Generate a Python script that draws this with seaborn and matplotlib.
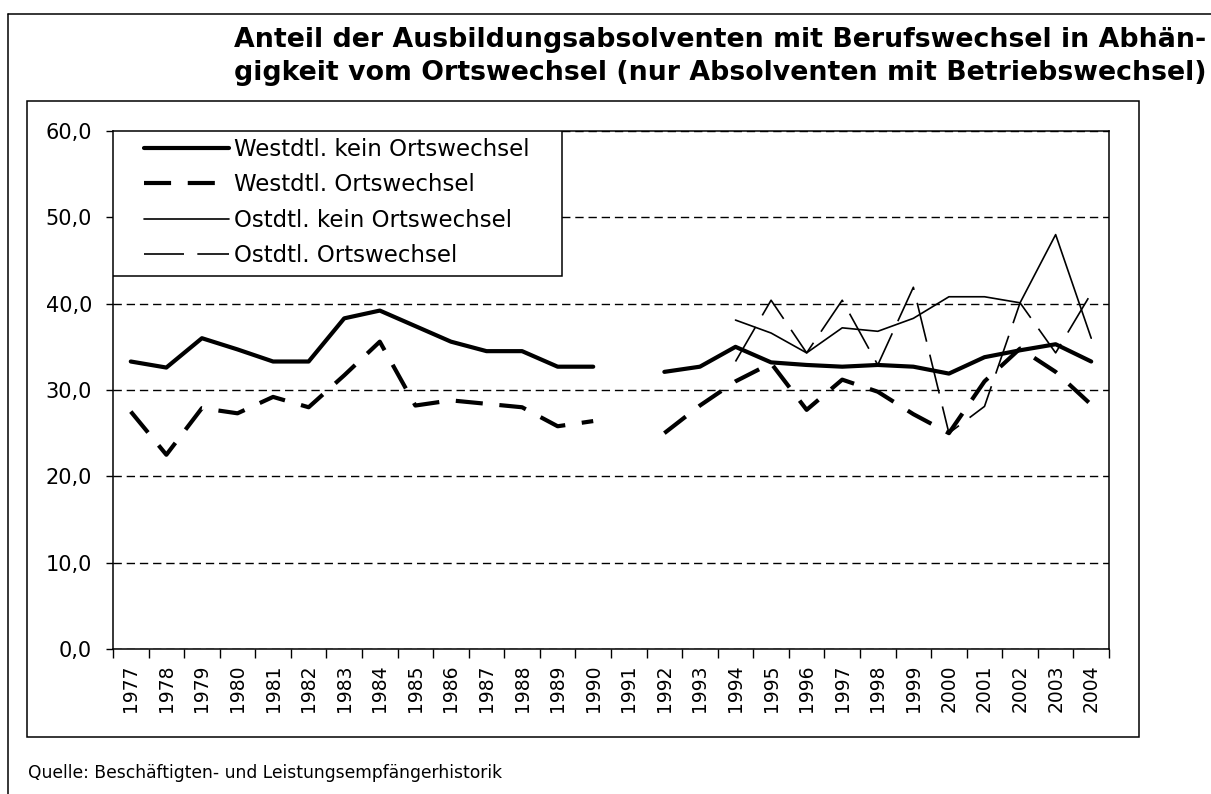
import numpy as np
import pandas as pd
import seaborn as sns
import matplotlib.pyplot as plt
from matplotlib.patches import Rectangle
from matplotlib.lines import Line2D
from matplotlib.ticker import FuncFormatter, FixedLocator

# ------------------------------------------------------------------
# Daten
# ------------------------------------------------------------------
jahre = list(range(1977, 2005))

west_kein = [33.3, 32.6, 36.0, 34.7, 33.3, 33.3, 38.3, 39.2, 37.4, 35.6, 34.5, 34.5, 32.7, 32.7,
             np.nan,
             32.1, 32.7, 35.0, 33.2, 32.9, 32.7, 32.9, 32.7, 31.9, 33.8, 34.6, 35.3, 33.3]
west_ort = [27.5, 22.5, 27.9, 27.3, 29.2, 28.0, 31.7, 35.6, 28.2, 28.8, 28.4, 28.0, 25.8, 26.4,
            np.nan,
            25.0, 28.2, 31.0, 33.1, 27.7, 31.2, 29.8, 27.2, 25.0, 31.0, 34.8, 32.1, 28.3]
ost_kein = [np.nan] * 17 + [38.1, 36.6, 34.3, 37.2, 36.8, 38.3, 40.8, 40.8, 40.1, 48.0, 36.0]
ost_ort = [np.nan] * 17 + [33.3, 40.4, 34.3, 40.4, 32.9, 41.9, 25.0, 28.1, 40.1, 34.3, 41.2]

serien = {
    'Westdtl. kein Ortswechsel': west_kein,
    'Westdtl. Ortswechsel': west_ort,
    'Ostdtl. kein Ortswechsel': ost_kein,
    'Ostdtl. Ortswechsel': ost_ort,
}

# Linienstile je Serie
stile = {
    'Westdtl. kein Ortswechsel': dict(linewidth=3.0, linestyle='-'),
    'Westdtl. Ortswechsel': dict(linewidth=3.0, linestyle=(0, (6.5, 4))),
    'Ostdtl. kein Ortswechsel': dict(linewidth=1.2, linestyle='-'),
    'Ostdtl. Ortswechsel': dict(linewidth=1.2, linestyle=(0, (24, 8))),
}

titel_1 = 'Anteil der Ausbildungsabsolventen mit Berufswechsel in Abhän-'
titel_2 = 'gigkeit vom Ortswechsel (nur Absolventen mit Betriebswechsel)'
quelle = 'Quelle: Beschäftigten- und Leistungsempfängerhistorik'

# ------------------------------------------------------------------
# Stil
# ------------------------------------------------------------------
sns.set_style('white')
plt.rcParams['font.family'] = ['DejaVu Sans']
for k in ['text.color', 'axes.labelcolor', 'xtick.color', 'ytick.color', 'axes.edgecolor']:
    plt.rcParams[k] = 'black'

W, H = 1211, 794
fig = plt.figure(figsize=(W / 100, H / 100), dpi=100)
fig.patch.set_facecolor('white')

def fx(x):
    return x / W

def fy(y):
    return 1 - y / H

ax = fig.add_axes([fx(113), fy(649), fx(1109) - fx(113), fy(131) - fy(649)])

# ------------------------------------------------------------------
# Linien
# ------------------------------------------------------------------
for name, werte in serien.items():
    df = pd.DataFrame({'Jahr': jahre, 'Anteil': werte})
    # Luecken (1991) nicht verbinden
    df['Abschnitt'] = df['Anteil'].isna().cumsum()
    df = df.dropna()
    sns.lineplot(data=df, x='Jahr', y='Anteil', units='Abschnitt', estimator=None,
                 color='black', label=name, legend=False, ax=ax, **stile[name])

# ------------------------------------------------------------------
# Achsen
# ------------------------------------------------------------------
ax.set_xlim(jahre[0] - 0.5, jahre[-1] + 0.5)
ax.set_ylim(0, 60)
ax.set_xlabel('')
ax.set_ylabel('')

ax.set_xticks(jahre)
ax.set_xticklabels([str(j) for j in jahre], rotation=90, fontsize=13.5)
ax.xaxis.set_minor_locator(FixedLocator([j - 0.5 for j in jahre] + [jahre[-1] + 0.5]))
ax.tick_params(axis='x', which='major', length=0, pad=11)
ax.tick_params(axis='x', which='minor', length=6.5, width=1.0, direction='out', bottom=True)

ax.set_yticks(np.arange(0, 61, 10))
ax.yaxis.set_major_formatter(FuncFormatter(lambda v, p: f'{v:.1f}'.replace('.', ',')))
ax.tick_params(axis='y', which='major', length=5, width=1.0, direction='out', left=True,
               labelsize=15, pad=10)

ax.yaxis.grid(True, color='black', linewidth=1.0, linestyle=(0, (6, 3.5)))
ax.xaxis.grid(False)
ax.set_axisbelow(True)
for s in ax.spines.values():
    s.set_visible(True)
    s.set_color('black')
    s.set_linewidth(1.1)

# ------------------------------------------------------------------
# Legende
# ------------------------------------------------------------------
handles, labels = ax.get_legend_handles_labels()
eindeutig = dict(zip(labels, handles))
leg = ax.legend(list(eindeutig.values()), list(eindeutig.keys()),
                loc='upper left', bbox_to_anchor=(0.024, 1.0), frameon=False,
                fontsize=16.5, handlelength=3.7, handletextpad=0.22,
                labelspacing=0.54, borderpad=0.3, borderaxespad=0)
leg.set_zorder(6)

fig.canvas.draw()
ext = leg.get_window_extent()
inv = ax.transAxes.inverted()
(x1, y0) = inv.transform((ext.x1 + 26, ext.y0 - 2))
ax.add_patch(Rectangle((0, y0), x1, 1 - y0, transform=ax.transAxes,
                       facecolor='white', edgecolor='black', linewidth=1.1, zorder=5))

# ------------------------------------------------------------------
# Titel, Quelle, Rahmen
# ------------------------------------------------------------------
fig.text(fx(234), fy(40), titel_1, fontsize=19.3, fontweight='bold', ha='left', va='center')
fig.text(fx(234), fy(73), titel_2, fontsize=19.3, fontweight='bold', ha='left', va='center')
fig.text(fx(28), fy(773), quelle, fontsize=12.3, ha='left', va='center')

fig.add_artist(Rectangle((fx(27), fy(737)), fx(1139) - fx(27), fy(101) - fy(737),
                         transform=fig.transFigure, fill=False, edgecolor='black', linewidth=1.1))
fig.add_artist(Line2D([fx(8), fx(8)], [0, fy(14)], transform=fig.transFigure,
                      color='black', linewidth=1.1))
fig.add_artist(Line2D([fx(8), 1], [fy(14), fy(14)], transform=fig.transFigure,
                      color='black', linewidth=1.1))

fig.savefig('out.png', dpi=100, facecolor='white')
